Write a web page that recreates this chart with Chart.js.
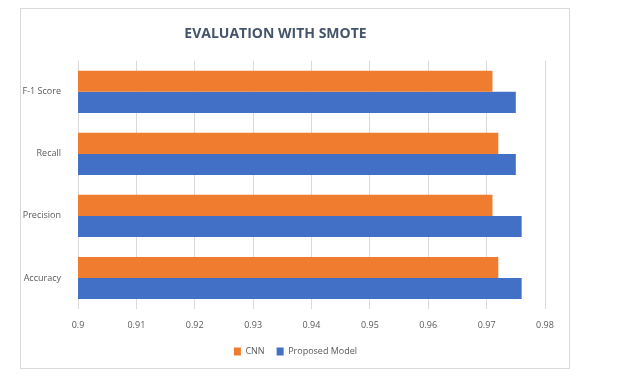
<!DOCTYPE html>
<html>
<head>
<meta charset="utf-8">
<script src="https://cdn.jsdelivr.net/npm/chart.js@4/dist/chart.umd.min.js"></script>
<style>
  html, body { margin: 0; padding: 0; background: #fff; }
  #wrap { position: relative; width: 644px; height: 388px; }
  #frame { position: absolute; left: 20px; top: 8px; width: 548px; height: 359px; border: 1px solid #d9d9d9; }
  #holder { position: absolute; left: 6px; top: 0; width: 568px; height: 388px; }
</style>
</head>
<body>
<div id="wrap">
  <div id="frame"></div>
  <div id="holder"><canvas id="myBarChart" width="568" height="388"></canvas></div>
</div>
<script>
// Datos del gráfico (de arriba hacia abajo)
const categorias = ['F-1 Score', 'Recall', 'Precision', 'Accuracy'];
const valoresCNN = [0.971, 0.972, 0.971, 0.972];
const valoresPropuesto = [0.975, 0.975, 0.976, 0.976];
const ticksX = [0.9, 0.91, 0.92, 0.93, 0.94, 0.95, 0.96, 0.97, 0.98];

const textoGris = '#595959';

const barData = {
    labels: categorias,
    datasets: [{
        label: 'CNN',
        data: valoresCNN,
        backgroundColor: '#F07D2F',
        categoryPercentage: 0.68,
        barPercentage: 1.0
    }, {
        label: 'Proposed Model',
        data: valoresPropuesto,
        backgroundColor: '#4170C6',
        categoryPercentage: 0.68,
        barPercentage: 1.0
    }]
};

// Mover la leyenda un poco a la derecha, como en la imagen
const moverLeyenda = {
    id: 'moverLeyenda',
    afterLayout(chart) {
        chart.legend.left += 20;
        chart.legend.right += 20;
    }
};

const options = {
    indexAxis: 'y',
    responsive: false,
    animation: false,
    layout: { padding: { left: 0, right: 29, top: 0, bottom: 22 } },
    scales: {
        x: {
            min: 0.9,
            max: 0.98,
            afterBuildTicks: axis => { axis.ticks = ticksX.map(v => ({ value: v })); },
            afterFit: axis => { axis.height = 26; },
            grid: { color: '#d9d9d9', drawTicks: false },
            border: { display: false },
            ticks: {
                color: textoGris,
                font: { family: 'Open Sans', size: 9 },
                padding: 11,
                callback: v => String(Math.round(v * 100) / 100)
            }
        },
        y: {
            afterFit: axis => { axis.width = 72; },
            grid: { display: false },
            border: { display: false },
            ticks: {
                color: textoGris,
                font: { family: 'Open Sans', size: 9 },
                padding: 9
            }
        }
    },
    plugins: {
        title: {
            display: true,
            text: 'EVALUATION WITH SMOTE',
            color: '#44546A',
            font: { family: 'Open Sans', size: 14, weight: 'bold' },
            padding: { top: 26, bottom: 18 }
        },
        legend: {
            position: 'bottom',
            labels: {
                color: textoGris,
                font: { family: 'Open Sans', size: 9 },
                boxWidth: 7,
                boxHeight: 8,
                padding: 12
            }
        },
        tooltip: { enabled: false }
    }
};

const ctx = document.getElementById('myBarChart').getContext('2d');
const barChart = new Chart(ctx, {
    type: 'bar',
    data: barData,
    options: options,
    plugins: [moverLeyenda]
});
</script>
</body>
</html>
